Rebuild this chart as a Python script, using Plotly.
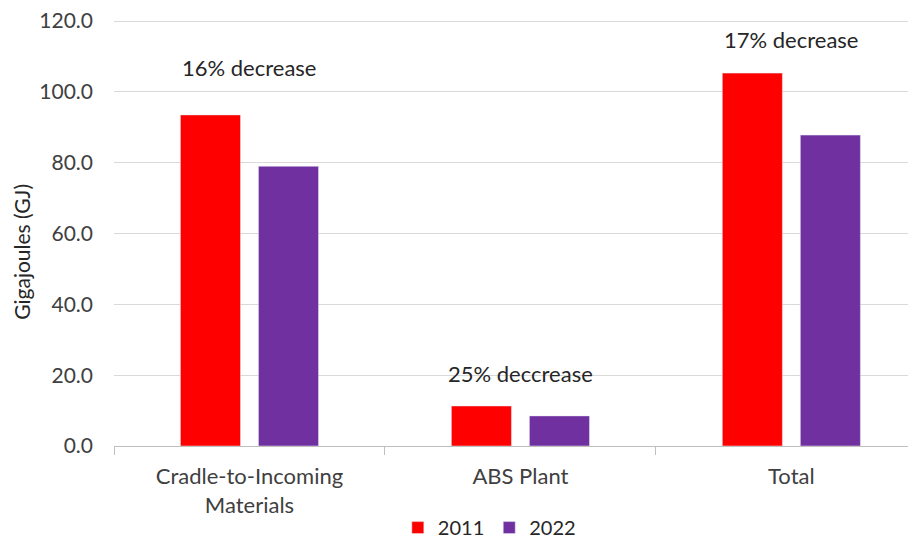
import plotly.graph_objects as go

categories = ["Cradle-to-Incoming<br>Materials", "ABS Plant", "Total"]
values_2011 = [93.5, 11.3, 105.3]
values_2022 = [79.0, 8.5, 87.8]
notes = ["16% decrease", "25% deccrease", "17% decrease"]
note_y = [107.0, 20.5, 114.8]

font = "Lato, 'Open Sans', sans-serif"
fig = go.Figure()
fig.add_trace(go.Bar(name="2011", x=categories, y=values_2011, marker_color="#FF0000"))
fig.add_trace(go.Bar(name="2022", x=categories, y=values_2022, marker_color="#7030A0"))

for c, t, yv in zip(categories, notes, note_y):
    fig.add_annotation(x=c, y=yv, text=t, showarrow=False,
                       font=dict(size=22, color="#262626", family=font))

fig.add_annotation(xref="paper", yref="paper", x=-0.1147, y=0.456, text="Gigajoules (GJ)",
                   textangle=-90, showarrow=False, xanchor="center", yanchor="middle",
                   font=dict(size=21, color="#262626", family=font))

fig.update_layout(
    width=916, height=539,
    margin=dict(l=106, r=8, t=12, b=101, autoexpand=False),
    plot_bgcolor="white", paper_bgcolor="white",
    barmode="group", bargap=0.424, bargroupgap=0.23,
    font=dict(family=font, size=21, color="#404040"),
    legend=dict(orientation="h", xref="paper", x=0.468, xanchor="center",
                yref="container", y=0.036, yanchor="middle",
                font=dict(size=20, color="#262626"), itemwidth=30, tracegroupgap=0),
    showlegend=True,
)
fig.update_xaxes(range=[-0.5, 2.46], showline=True, linecolor="#bfbfbf", linewidth=1,
                 ticks="outside", tickson="boundaries", ticklen=8, tickcolor="#bfbfbf",
                 ticklabelstandoff=11,
                 tickfont=dict(size=22, color="#404040"))
fig.update_yaxes(range=[0, 120.3], tickvals=[0, 20, 40, 60, 80, 100, 120], tickformat=".1f",
                 showgrid=True, ticklabeloverflow="allow", ticklabelstandoff=20,
                 gridcolor="#d9d9d9", gridwidth=1, zeroline=False,
                 tickfont=dict(size=21, color="#404040"), ticks="", showline=False)
fig.write_html("out.html")
